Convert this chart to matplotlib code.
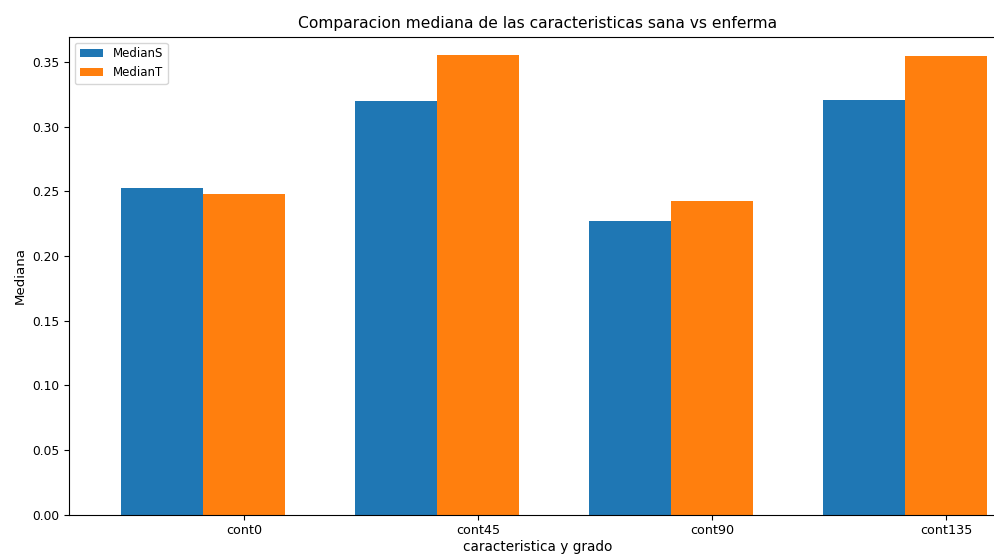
import matplotlib
matplotlib.use("Agg")
import matplotlib.pyplot as plt
import numpy as np

categories = ["cont0", "cont45", "cont90", "cont135"]
median_s = [0.2525, 0.3200, 0.2272, 0.3205]
median_t = [0.2475, 0.3553, 0.2427, 0.3542]
series_labels = ["MedianS", "MedianT"]

plt.rcParams['font.family'] = ['DejaVu Sans']
plt.rcParams['font.size'] = 8.5

fig = plt.figure(figsize=(9.95, 5.54), dpi=100)
ax = fig.add_axes([69/995, (554-514.7)/554, (1006-69)/995, (514.7-36.7)/554])

x = np.arange(len(categories))
width = 0.35
ax.bar(x - width, median_s, width, label=series_labels[0], color="#1f77b4")
ax.bar(x, median_t, width, label=series_labels[1], color="#ff7f0e")

ax.set_xticks(x)
ax.set_xticklabels(categories)
ax.tick_params(axis="x", labelsize=9.2)
ax.tick_params(axis="y", labelsize=8.8)
ax.set_xlim(-0.747, 3.255)
ax.set_ylim(0, 0.3694)
ax.set_yticks(np.arange(0, 0.36, 0.05))
ax.set_ylabel("Mediana", fontsize=9.6)
ax.set_xlabel("caracteristica y grado", fontsize=9.8, labelpad=2)
ax.set_title("Comparacion mediana de las caracteristicas sana vs enferma", fontsize=11.2)
ax.legend(loc="upper left")

fig.savefig("out.png", dpi=100)
